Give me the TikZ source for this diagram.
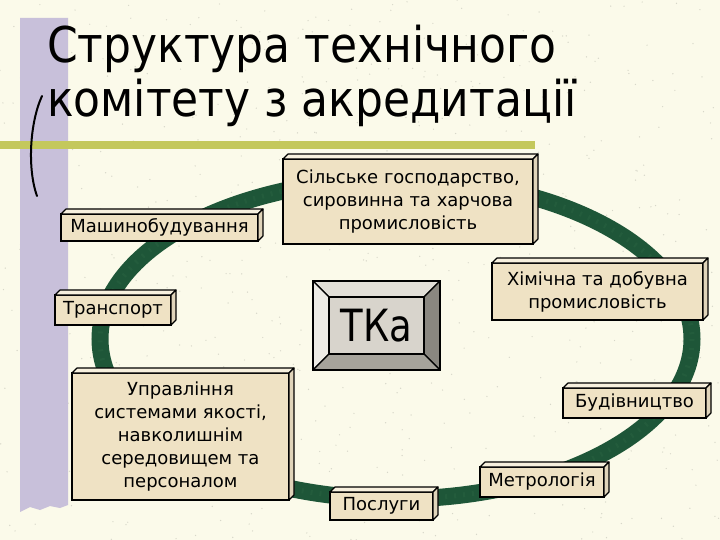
\documentclass[tikz,border=0pt]{standalone}
\usepackage{fontspec}
\setmainfont{DejaVu Sans}
\usetikzlibrary{calc}
\definecolor{bgc}{RGB}{251,250,234}
\definecolor{specc}{RGB}{150,150,140}
\definecolor{barc}{RGB}{200,192,218}
\definecolor{olivec}{RGB}{196,200,92}
\definecolor{ringc}{RGB}{30,86,56}
\definecolor{ringl}{RGB}{52,110,74}
\definecolor{boxf}{RGB}{239,226,196}
\definecolor{boxt}{RGB}{247,240,222}
\definecolor{boxs}{RGB}{224,212,186}
\definecolor{tkface}{RGB}{216,212,204}
\definecolor{tktop}{RGB}{226,223,216}
\definecolor{tkleft}{RGB}{238,236,230}
\definecolor{tkright}{RGB}{138,135,128}
\definecolor{tkbot}{RGB}{166,163,155}
\newcommand\extrude[1]{%
  \filldraw[fill=boxt, line width=1.1pt, line join=round] (#1.north west) -- ++(5,-5) -- ($(#1.north east)+(5,-5)$) -- (#1.north east) -- cycle;
  \filldraw[fill=boxs, line width=1.1pt, line join=round] (#1.north east) -- ++(5,-5) -- ($(#1.south east)+(5,-5)$) -- (#1.south east) -- cycle;}
\begin{document}
\begin{tikzpicture}[x=1pt,y=-1pt,
  tbox/.style={draw=black, line width=1.3pt, fill=boxf, align=center, outer sep=0pt, inner sep=0pt,
    font=\fontsize{18}{23}\selectfont},
  ttl/.style={anchor=base west, inner sep=0pt, font=\fontsize{44}{50}\selectfont},
  ring/.style={draw=ringc, line width=17pt}]
\useasboundingbox (0,0) rectangle (720,540);
\fill[bgc] (0,0) rectangle (720,540);
% speckles
\pgfmathsetseed{7}
\foreach \i in {1,...,700}{
  \pgfmathsetmacro\rx{rnd*720}\pgfmathsetmacro\ry{rnd*540}
  \fill[specc, opacity=0.35] (\rx,\ry) circle (0.7);}
% purple bar
\fill[barc] (20,18) -- (68,18) -- (68,505) -- (60,508) -- (50,506) -- (40,510) -- (30,507) -- (20,512) -- cycle;
% olive line
\fill[olivec] (0,141) rectangle (535,149);
% bracket
\draw[line width=2pt, line cap=round] (42,96) .. controls (30,122) and (27,168) .. (37,196);
% title
\node[ttl] (t1) at (47,63) {\scalebox{1}[1.12]{Структура технічного}};
\node[ttl] (t2) at (47,117) {\scalebox{1}[1.12]{комітету з акредитації}};
% ring
\draw[ring] (396,339) ellipse [x radius=296, y radius=160];
\draw[ringl, line width=5pt, opacity=0.25, dash pattern=on 2pt off 7pt] (396,339) ellipse [x radius=296, y radius=160];
% boxes
\node[tbox, minimum width=197, minimum height=27] (mash) at (159.5,227.5) {Машинобудування};
\extrude{mash}
\node[tbox, minimum width=116, minimum height=30] (trans) at (113,310) {Транспорт};
\extrude{trans}
\node[tbox, minimum width=250, minimum height=85] (sil) at (408,201.5) {Сільське господарство,\\сировинна та харчова\\промисловість};
\extrude{sil}
\node[tbox, minimum width=211, minimum height=57] (khim) at (597.5,291.5) {Хімічна та добувна\\промисловість};
\extrude{khim}
\node[tbox, minimum width=143, minimum height=30] (bud) at (634.5,403) {Будівництво};
\extrude{bud}
\node[tbox, minimum width=124, minimum height=30] (metr) at (542,482) {Метрологія};
\extrude{metr}
\node[tbox, minimum width=103, minimum height=28] (posl) at (381.5,506) {Послуги};
\extrude{posl}
\node[tbox, minimum width=217, minimum height=127] (upr) at (180.5,436.5) {Управління\\системами якості,\\навколишнім\\середовищем та\\персоналом};
\extrude{upr}
% TKa
\node[minimum width=127, minimum height=89, outer sep=0pt, inner sep=0pt] (tka) at (376.5,325.5) {};
\coordinate (inw) at ($(tka.north west)+(16,16)$);
\coordinate (ine) at ($(tka.north east)+(-16,16)$);
\coordinate (isw) at ($(tka.south west)+(16,-16)$);
\coordinate (ise) at ($(tka.south east)+(-16,-16)$);
\filldraw[fill=tktop, line width=1.2pt, line join=round] (tka.north west) -- (tka.north east) -- (ine) -- (inw) -- cycle;
\filldraw[fill=tkleft, line width=1.2pt, line join=round] (tka.north west) -- (inw) -- (isw) -- (tka.south west) -- cycle;
\filldraw[fill=tkright, line width=1.2pt, line join=round] (tka.north east) -- (tka.south east) -- (ise) -- (ine) -- cycle;
\filldraw[fill=tkbot, line width=1.2pt, line join=round] (tka.south west) -- (isw) -- (ise) -- (tka.south east) -- cycle;
\node[draw=black, line width=1.2pt, fill=tkface, minimum width=95, minimum height=57, outer sep=0pt, inner sep=0pt,
  font=\fontsize{37}{44}\selectfont] (tkin) at (tka) {\scalebox{1}[1.2]{ТКа}};
\draw[line width=1.6pt] (tka.north west) rectangle (tka.south east);
\end{tikzpicture}
\end{document}
